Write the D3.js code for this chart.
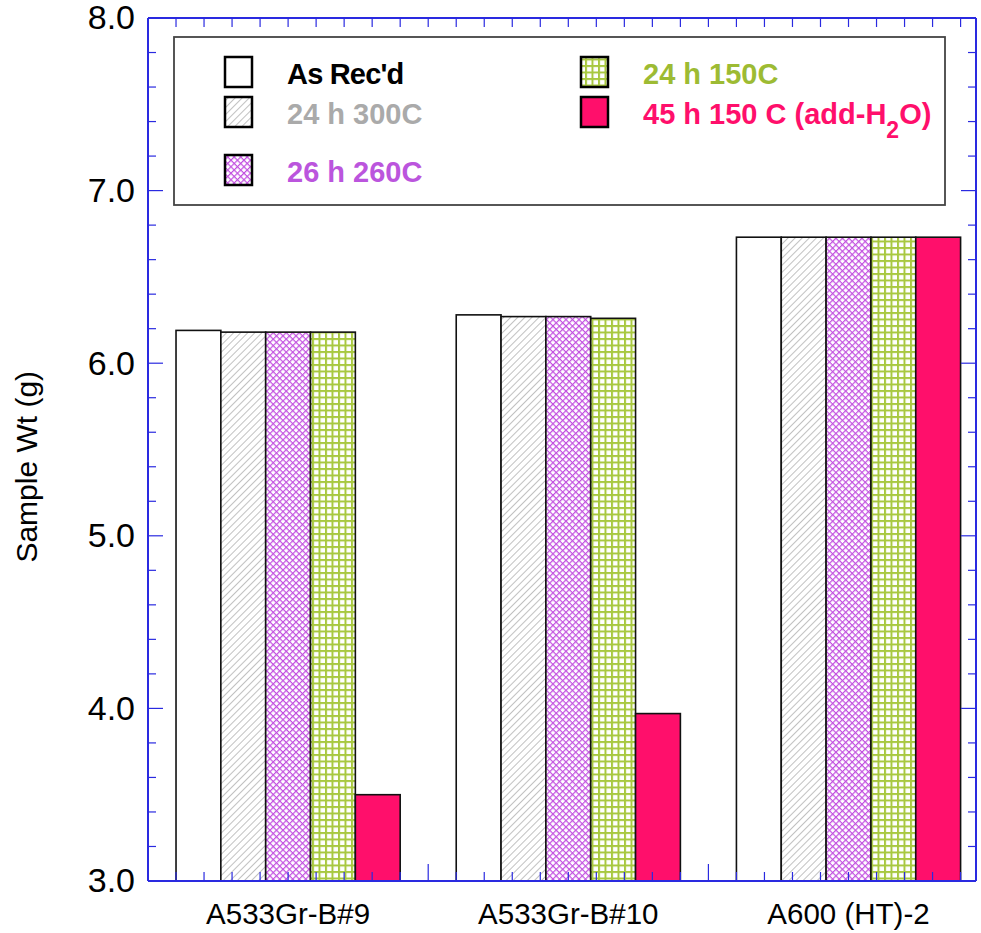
<!DOCTYPE html>
<html>
<head>
<meta charset="utf-8">
<script src="https://cdn.jsdelivr.net/npm/d3@7"></script>
<style>
  body { margin: 0; background: #fff; }
  svg text { font-family: "Liberation Sans", Arial, sans-serif; }
</style>
</head>
<body>
<svg id="chart" width="981" height="933"></svg>
<script>
// data
var samples = ["A533Gr-B#9", "A533Gr-B#10", "A600 (HT)-2"];
var treatments = ["As Rec'd", "24 h 300C", "26 h 260C", "24 h 150C", "45 h 150 C (add-H2O)"];
var asRecd   = [6.19, 6.28, 6.73];
var h24t300  = [6.18, 6.27, 6.73];
var h26t260  = [6.18, 6.27, 6.73];
var h24t150  = [6.18, 6.26, 6.73];
var h45t150w = [3.50, 3.97, 6.73];
var yTicks = [3.0, 4.0, 5.0, 6.0, 7.0, 8.0];

var margin = {top: 18, right: 5, bottom: 52, left: 148};
var width = 981, height = 933;
var svg = d3.select("#chart");
var axisColor = "#2a2ae0";

var series = [asRecd, h24t300, h26t260, h24t150, h45t150w];
var fills = ["#ffffff", "url(#hatch)", "url(#purp)", "url(#grid)", "#ff0f6b"];
var textColors = ["#000000", "#aaaaaa", "#bb55dd", "#9dbb33", "#ff0f6b"];

// patterns
var defs = svg.append("defs");
var p1 = defs.append("pattern").attr("id", "hatch").attr("patternUnits", "userSpaceOnUse")
  .attr("width", 5).attr("height", 5).attr("patternTransform", "rotate(45)");
p1.append("rect").attr("width", 5).attr("height", 5).attr("fill", "#fff");
p1.append("line").attr("x1", 0).attr("y1", 0).attr("x2", 0).attr("y2", 5)
  .attr("stroke", "#a0a0a0").attr("stroke-width", 1.3);

var p2 = defs.append("pattern").attr("id", "purp").attr("patternUnits", "userSpaceOnUse")
  .attr("width", 4.6).attr("height", 4.6).attr("patternTransform", "rotate(45)");
p2.append("rect").attr("width", 4.6).attr("height", 4.6).attr("fill", "#fff");
p2.append("line").attr("x1", 0).attr("y1", 0).attr("x2", 0).attr("y2", 4.6)
  .attr("stroke", "#c24fe0").attr("stroke-width", 2.4);
p2.append("line").attr("x1", 0).attr("y1", 0).attr("x2", 4.6).attr("y2", 0)
  .attr("stroke", "#c24fe0").attr("stroke-width", 2.4);

var p3 = defs.append("pattern").attr("id", "grid").attr("patternUnits", "userSpaceOnUse")
  .attr("width", 6.5).attr("height", 6.5);
p3.append("rect").attr("width", 6.5).attr("height", 6.5).attr("fill", "#fff");
p3.append("line").attr("x1", 1).attr("y1", 0).attr("x2", 1).attr("y2", 6.5)
  .attr("stroke", "#a8c840").attr("stroke-width", 2);
p3.append("line").attr("x1", 0).attr("y1", 1).attr("x2", 6.5).attr("y2", 1)
  .attr("stroke", "#a8c840").attr("stroke-width", 2);

// scales
var x = d3.scaleLinear().domain([0, 2.955]).range([margin.left, width - margin.right]);
var y = d3.scaleLinear().domain([3, 8]).range([height - margin.bottom, margin.top]);
var barW = 0.16;

// bars
series.forEach(function(vals, k) {
  svg.append("g").selectAll("rect")
    .data(vals)
    .join("rect")
    .attr("x", function(d, i) { return x(i + 0.1 + k * barW); })
    .attr("y", function(d) { return y(d); })
    .attr("width", x(barW) - x(0))
    .attr("height", function(d) { return y(3) - y(d); })
    .attr("fill", fills[k])
    .attr("stroke", "#111")
    .attr("stroke-width", 1.6);
});

// axes
var minorX = d3.range(0, 2.96, 0.1);
var gB = svg.append("g").attr("transform", "translate(0," + y(3) + ")");
gB.append("line").attr("x1", x(0)).attr("x2", x(2.955)).attr("stroke", axisColor).attr("stroke-width", 2);
gB.selectAll("line.t").data(minorX).join("line").attr("class", "t")
  .attr("x1", function(d) { return x(d); }).attr("x2", function(d) { return x(d); })
  .attr("y1", 0).attr("y2", function(d, i) { return i % 10 === 0 ? -17 : -9; })
  .attr("stroke", axisColor).attr("stroke-width", 1.2);

var gT = svg.append("g").attr("transform", "translate(0," + y(8) + ")");
gT.append("line").attr("x1", x(0)).attr("x2", x(2.955)).attr("stroke", axisColor).attr("stroke-width", 2);
gT.selectAll("line.t").data(minorX).join("line").attr("class", "t")
  .attr("x1", function(d) { return x(d); }).attr("x2", function(d) { return x(d); })
  .attr("y1", 0).attr("y2", 9)
  .attr("stroke", axisColor).attr("stroke-width", 1.2);

var minorY = d3.range(3, 8.01, 0.2);
[x(0), x(2.955)].forEach(function(px, side) {
  var g = svg.append("g");
  g.append("line").attr("x1", px).attr("x2", px).attr("y1", y(3)).attr("y2", y(8))
    .attr("stroke", axisColor).attr("stroke-width", 2);
  g.selectAll("line.t").data(minorY).join("line").attr("class", "t")
    .attr("y1", function(d) { return y(d); }).attr("y2", function(d) { return y(d); })
    .attr("x1", px)
    .attr("x2", function(d) {
      var len = Math.abs(d - Math.round(d)) < 0.01 ? 15 : 8;
      return side === 0 ? px + len : px - len;
    })
    .attr("stroke", axisColor).attr("stroke-width", 1.2);
});

// tick labels
var yAxis = d3.axisLeft(y).tickValues(yTicks).tickFormat(d3.format(".1f")).tickSize(0).tickPadding(13);
var gy = svg.append("g").attr("transform", "translate(" + x(0) + ",0)").call(yAxis);
gy.select(".domain").remove();
gy.selectAll("text").attr("font-size", 34).attr("fill", "#000")
  .style("font-family", "'Liberation Sans', Arial, sans-serif");

svg.append("g").selectAll("text")
  .data(samples)
  .join("text")
  .attr("x", function(d, i) { return x(i + 0.5); })
  .attr("y", 924)
  .attr("text-anchor", "middle")
  .attr("font-size", 29.5)
  .text(function(d) { return d; });

svg.append("text")
  .attr("transform", "translate(37," + y(5.4) + ") rotate(-90)")
  .attr("text-anchor", "middle")
  .attr("font-size", 30)
  .text("Sample Wt (g)");

// legend
svg.append("rect").attr("x", 174).attr("y", 37).attr("width", 771).attr("height", 168)
  .attr("fill", "#fff").attr("stroke", "#444").attr("stroke-width", 1.8);

var legPos = [[225, 57], [225, 97], [225, 155], [581, 57], [581, 97]];
legPos.forEach(function(p, k) {
  svg.append("rect").attr("x", p[0]).attr("y", p[1]).attr("width", 27).attr("height", 30)
    .attr("fill", fills[k]).attr("stroke", "#000").attr("stroke-width", 2.5);
  var t = svg.append("text").attr("x", p[0] + 62).attr("y", p[1] + 27)
    .attr("font-size", 29).attr("font-weight", "bold").attr("fill", textColors[k])
    .attr("letter-spacing", k === 0 ? -0.8 : 0);
  if (k === 4) {
    t.append("tspan").text("45 h 150 C (add-H");
    t.append("tspan").attr("dy", 14).attr("font-size", 23).text("2");
    t.append("tspan").attr("dy", -14).text("O)");
  } else {
    t.text(treatments[k]);
  }
});
</script>
</body>
</html>
